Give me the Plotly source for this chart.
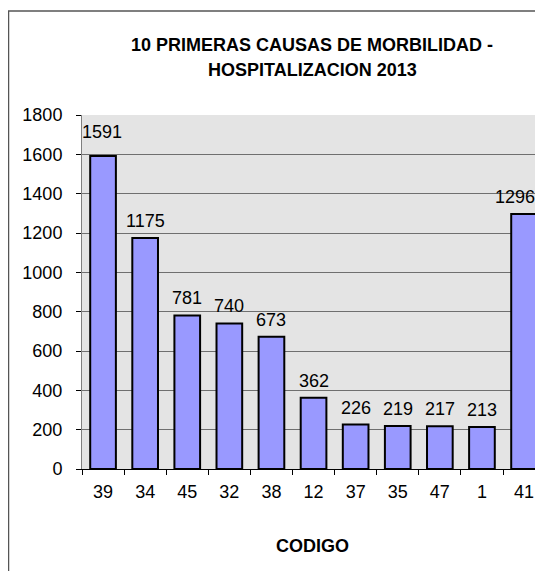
"""Bar chart: 10 primeras causas de morbilidad - hospitalizacion 2013."""

import plotly.graph_objects as go

codigos = ["39", "34", "45", "32", "38", "12", "37", "35", "47", "1", "41"]
casos = [1591, 1175, 781, 740, 673, 362, 226, 219, 217, 213, 1296]

y_ticks = list(range(0, 1801, 200))

FONT = "Liberation Sans, Arial, sans-serif"

# page geometry (pixels); the html body adds an 8px margin around the figure
OFF = 8
PLOT_L, PLOT_T, PLOT_B, W, H = 82, 115, 469, 543, 571
plot_w = W - PLOT_L
plot_h = PLOT_B - PLOT_T
cat_px = 42.1

# label nudges (px) where the original moved a label: first sits higher,
# last is pulled left so it stays inside the chart
label_nudge = {0: (-1, 12), 10: (-9, 5)}


def px(x):
    return (x - PLOT_L) / plot_w


def py(y):
    return (PLOT_B - y) / plot_h


fig = go.Figure()
fig.add_trace(
    go.Bar(
        x=codigos,
        y=casos,
        width=0.61,
        marker=dict(color="#9999FF", line=dict(color="#000000", width=2)),
        hoverinfo="x+y",
    )
)

# value labels; x given as category index so "1" is not read as a position
for i, v in enumerate(casos):
    dx, dy = label_nudge.get(i, (0, 5))
    fig.add_annotation(
        x=i,
        y=v,
        text=str(v),
        showarrow=False,
        yanchor="bottom",
        xshift=dx,
        yshift=dy,
        font=dict(family=FONT, size=18, color="#000000"),
    )

for text, y in [("10 PRIMERAS CAUSAS DE MORBILIDAD -", 45), ("HOSPITALIZACION 2013", 70)]:
    fig.add_annotation(
        text=f"<b>{text}</b>",
        xref="paper", yref="paper", x=px(312), y=py(y),
        xanchor="center", yanchor="middle", showarrow=False,
        font=dict(family=FONT, size=18, color="#000000"),
    )
fig.add_annotation(
    text="<b>CODIGO</b>",
    xref="paper", yref="paper", x=px(312), y=py(546),
    xanchor="center", yanchor="middle", showarrow=False,
    font=dict(family=FONT, size=18, color="#000000"),
)

# outer chart border (left and top edges visible in the crop)
fig.add_shape(
    type="path",
    xref="paper", yref="paper",
    path=f"M {px(8.5)} {py(H + 5)} L {px(8.5)} {py(11)} L {px(W + 5)} {py(11)}",
    line=dict(color="#555555", width=1.5),
)

fig.update_xaxes(
    type="category",
    range=[-0.5, -0.5 + plot_w / cat_px],
    showgrid=False,
    showline=True,
    linecolor="#000000",
    linewidth=1,
    ticks="outside",
    tickson="boundaries",
    ticklen=5,
    tickcolor="#000000",
    ticklabelstandoff=6,
    tickfont=dict(family=FONT, size=18, color="#000000"),
)
fig.update_yaxes(
    range=[0, 1800],
    tickvals=y_ticks,
    showgrid=True,
    gridcolor="#6f6f6f",
    gridwidth=1,
    showline=True,
    linecolor="#7f7f7f",
    linewidth=1,
    ticks="outside",
    ticklen=5,
    tickcolor="#000000",
    ticklabelstandoff=10,
    tickfont=dict(family=FONT, size=18, color="#000000"),
    zeroline=False,
)
fig.update_layout(
    width=W - OFF,
    height=H - OFF,
    autosize=False,
    margin=dict(l=PLOT_L - OFF, r=0, t=PLOT_T - OFF, b=H - PLOT_B),
    paper_bgcolor="#ffffff",
    plot_bgcolor="#e4e4e4",
    showlegend=False,
    bargap=0.39,
)

fig.write_html("out.html")
